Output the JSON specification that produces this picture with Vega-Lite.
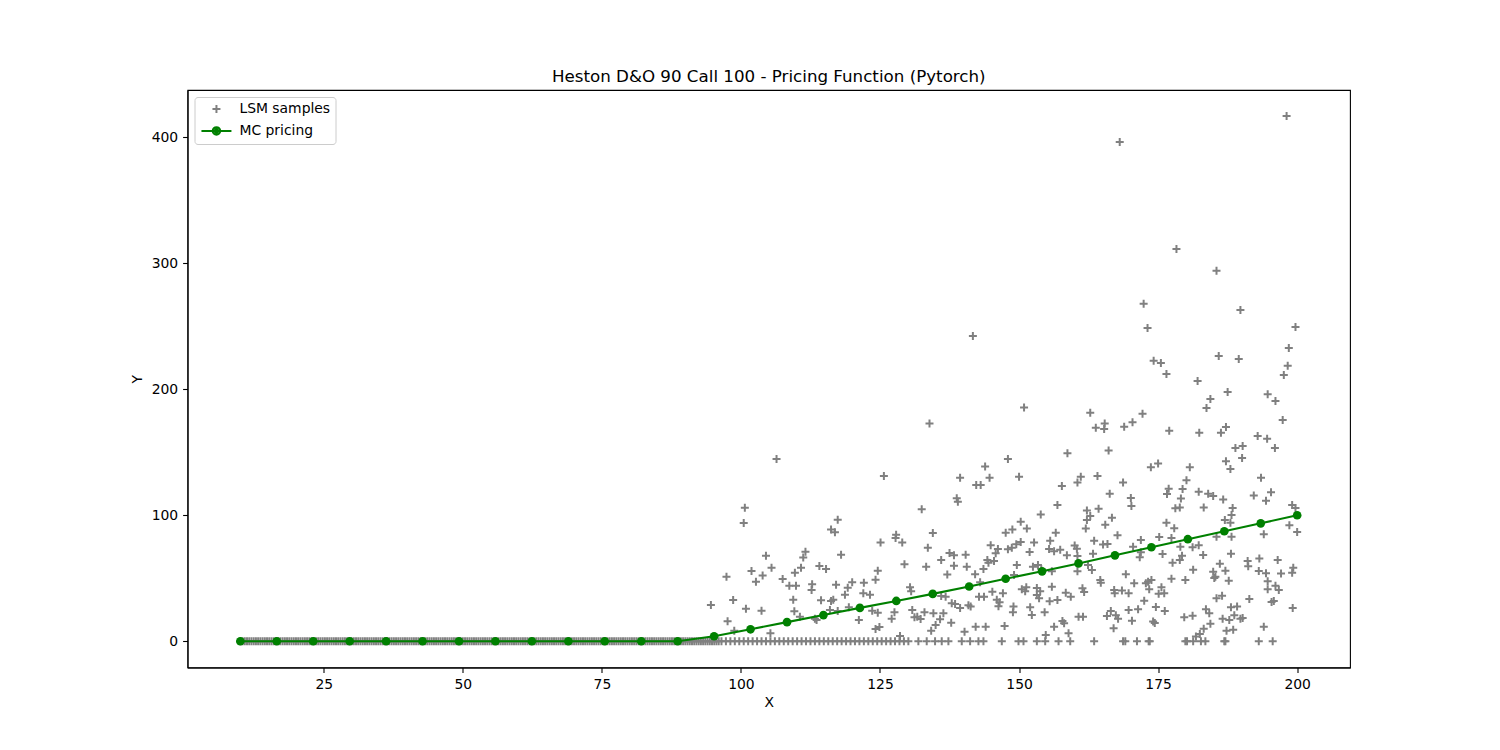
{
  "$schema": "https://vega.github.io/schema/vega-lite/v6.json",
  "width": 1162.5,
  "height": 577.5,
  "autosize": "none",
  "padding": {"left": 187.5, "top": 90, "right": 150, "bottom": 82.5},
  "background": "white",
  "title": {
    "text": "Heston D&O 90 Call 100 - Pricing Function (Pytorch)",
    "font": "DejaVu Sans",
    "fontSize": 16.7,
    "fontWeight": "normal",
    "color": "black",
    "baseline": "bottom",
    "offset": -13
  },
  "datasets": {
    "samples": [
      {"x":10,"y":0},{"x":10.4,"y":0},{"x":10.8,"y":0},{"x":11.2,"y":0},{"x":11.6,"y":0},
      {"x":12,"y":0},{"x":12.4,"y":0},{"x":12.8,"y":0},{"x":13.2,"y":0},{"x":13.6,"y":0},
      {"x":14,"y":0},{"x":14.4,"y":0},{"x":14.8,"y":0},{"x":15.2,"y":0},{"x":15.6,"y":0},
      {"x":16,"y":0},{"x":16.4,"y":0},{"x":16.8,"y":0},{"x":17.2,"y":0},{"x":17.6,"y":0},
      {"x":18,"y":0},{"x":18.4,"y":0},{"x":18.8,"y":0},{"x":19.2,"y":0},{"x":19.6,"y":0},
      {"x":20,"y":0},{"x":20.4,"y":0},{"x":20.8,"y":0},{"x":21.2,"y":0},{"x":21.6,"y":0},
      {"x":22,"y":0},{"x":22.4,"y":0},{"x":22.8,"y":0},{"x":23.2,"y":0},{"x":23.6,"y":0},
      {"x":24,"y":0},{"x":24.4,"y":0},{"x":24.8,"y":0},{"x":25.2,"y":0},{"x":25.6,"y":0},
      {"x":26,"y":0},{"x":26.4,"y":0},{"x":26.8,"y":0},{"x":27.2,"y":0},{"x":27.6,"y":0},
      {"x":28,"y":0},{"x":28.4,"y":0},{"x":28.8,"y":0},{"x":29.2,"y":0},{"x":29.6,"y":0},
      {"x":30,"y":0},{"x":30.4,"y":0},{"x":30.8,"y":0},{"x":31.2,"y":0},{"x":31.6,"y":0},
      {"x":32,"y":0},{"x":32.4,"y":0},{"x":32.8,"y":0},{"x":33.2,"y":0},{"x":33.6,"y":0},
      {"x":34,"y":0},{"x":34.4,"y":0},{"x":34.8,"y":0},{"x":35.2,"y":0},{"x":35.6,"y":0},
      {"x":36,"y":0},{"x":36.4,"y":0},{"x":36.8,"y":0},{"x":37.2,"y":0},{"x":37.6,"y":0},
      {"x":38,"y":0},{"x":38.4,"y":0},{"x":38.8,"y":0},{"x":39.2,"y":0},{"x":39.6,"y":0},
      {"x":40,"y":0},{"x":40.4,"y":0},{"x":40.8,"y":0},{"x":41.2,"y":0},{"x":41.6,"y":0},
      {"x":42,"y":0},{"x":42.4,"y":0},{"x":42.8,"y":0},{"x":43.2,"y":0},{"x":43.6,"y":0},
      {"x":44,"y":0},{"x":44.4,"y":0},{"x":44.8,"y":0},{"x":45.2,"y":0},{"x":45.6,"y":0},
      {"x":46,"y":0},{"x":46.4,"y":0},{"x":46.8,"y":0},{"x":47.2,"y":0},{"x":47.6,"y":0},
      {"x":48,"y":0},{"x":48.4,"y":0},{"x":48.8,"y":0},{"x":49.2,"y":0},{"x":49.6,"y":0},
      {"x":50,"y":0},{"x":50.4,"y":0},{"x":50.8,"y":0},{"x":51.2,"y":0},{"x":51.6,"y":0},
      {"x":52,"y":0},{"x":52.4,"y":0},{"x":52.8,"y":0},{"x":53.2,"y":0},{"x":53.6,"y":0},
      {"x":54,"y":0},{"x":54.4,"y":0},{"x":54.8,"y":0},{"x":55.2,"y":0},{"x":55.6,"y":0},
      {"x":56,"y":0},{"x":56.4,"y":0},{"x":56.8,"y":0},{"x":57.2,"y":0},{"x":57.6,"y":0},
      {"x":58,"y":0},{"x":58.4,"y":0},{"x":58.8,"y":0},{"x":59.2,"y":0},{"x":59.6,"y":0},
      {"x":60,"y":0},{"x":60.4,"y":0},{"x":60.8,"y":0},{"x":61.2,"y":0},{"x":61.6,"y":0},
      {"x":62,"y":0},{"x":62.4,"y":0},{"x":62.8,"y":0},{"x":63.2,"y":0},{"x":63.6,"y":0},
      {"x":64,"y":0},{"x":64.4,"y":0},{"x":64.8,"y":0},{"x":65.2,"y":0},{"x":65.6,"y":0},
      {"x":66,"y":0},{"x":66.4,"y":0},{"x":66.8,"y":0},{"x":67.2,"y":0},{"x":67.6,"y":0},
      {"x":68,"y":0},{"x":68.4,"y":0},{"x":68.8,"y":0},{"x":69.2,"y":0},{"x":69.6,"y":0},
      {"x":70,"y":0},{"x":70.4,"y":0},{"x":70.8,"y":0},{"x":71.2,"y":0},{"x":71.6,"y":0},
      {"x":72,"y":0},{"x":72.4,"y":0},{"x":72.8,"y":0},{"x":73.2,"y":0},{"x":73.6,"y":0},
      {"x":74,"y":0},{"x":74.4,"y":0},{"x":74.8,"y":0},{"x":75.2,"y":0},{"x":75.6,"y":0},
      {"x":76,"y":0},{"x":76.4,"y":0},{"x":76.8,"y":0},{"x":77.2,"y":0},{"x":77.6,"y":0},
      {"x":78,"y":0},{"x":78.4,"y":0},{"x":78.8,"y":0},{"x":79.2,"y":0},{"x":79.6,"y":0},
      {"x":80,"y":0},{"x":80.4,"y":0},{"x":80.8,"y":0},{"x":81.2,"y":0},{"x":81.6,"y":0},
      {"x":82,"y":0},{"x":82.4,"y":0},{"x":82.8,"y":0},{"x":83.2,"y":0},{"x":83.6,"y":0},
      {"x":84,"y":0},{"x":84.4,"y":0},{"x":84.8,"y":0},{"x":85.2,"y":0},{"x":85.6,"y":0},
      {"x":86,"y":0},{"x":86.4,"y":0},{"x":86.8,"y":0},{"x":87.2,"y":0},{"x":87.6,"y":0},
      {"x":88,"y":0},{"x":88.4,"y":0},{"x":88.8,"y":0},{"x":89.2,"y":0},{"x":89.6,"y":0},
      {"x":90,"y":0},{"x":90.4,"y":0},{"x":90.8,"y":0},{"x":91.2,"y":0},{"x":91.6,"y":0},
      {"x":92,"y":0},{"x":92.4,"y":0},{"x":92.8,"y":0},{"x":93.2,"y":0},{"x":93.6,"y":0},
      {"x":94,"y":0},{"x":94.4,"y":0},{"x":94.8,"y":0},{"x":95.2,"y":0},{"x":95.6,"y":0},
      {"x":96,"y":0},
      {"x":96.5,"y":0},{"x":97.3,"y":0},{"x":98.1,"y":0},{"x":98.9,"y":0},{"x":99.7,"y":0},
      {"x":100.5,"y":0},{"x":101.3,"y":0},{"x":102.1,"y":0},{"x":102.9,"y":0},{"x":103.7,"y":0},
      {"x":104.5,"y":0},{"x":105.3,"y":0},{"x":106.1,"y":0},{"x":106.9,"y":0},{"x":107.7,"y":0},
      {"x":108.5,"y":0},{"x":109.3,"y":0},{"x":110.1,"y":0},{"x":110.9,"y":0},{"x":111.7,"y":0},
      {"x":112.5,"y":0},{"x":113.3,"y":0},{"x":114.1,"y":0},{"x":114.9,"y":0},{"x":115.7,"y":0},
      {"x":116.5,"y":0},{"x":117.3,"y":0},{"x":118.1,"y":0},{"x":118.9,"y":0},{"x":119.7,"y":0},
      {"x":120.5,"y":0},{"x":121.3,"y":0},{"x":122.1,"y":0},{"x":122.9,"y":0},{"x":123.7,"y":0},
      {"x":124.5,"y":0},{"x":125.3,"y":0},{"x":126.1,"y":0},{"x":126.9,"y":0},{"x":127.7,"y":0},
      {"x":128.5,"y":0},{"x":129.3,"y":0},{"x":130.1,"y":0},{"x":131.9,"y":0},{"x":133.4,"y":0},
      {"x":134.9,"y":0},{"x":136.1,"y":0},{"x":137.3,"y":0},{"x":139.7,"y":0},{"x":141.2,"y":0},
      {"x":142.7,"y":0},{"x":143.6,"y":0},{"x":146.9,"y":0},{"x":149.9,"y":0},{"x":150.8,"y":0},
      {"x":153.2,"y":0},{"x":154.7,"y":0},{"x":157.1,"y":0},{"x":159.2,"y":0},{"x":163.5,"y":0},
      {"x":168.7,"y":0},{"x":169.1,"y":0},{"x":171.2,"y":0},{"x":173.3,"y":0},{"x":173.5,"y":0},
      {"x":179.9,"y":0},{"x":180.2,"y":0},{"x":181.3,"y":0},{"x":182.7,"y":0},{"x":183.5,"y":0},
      {"x":186.9,"y":0},{"x":187.1,"y":0},{"x":193.1,"y":0},{"x":195.6,"y":0},
      {"x":198.1,"y":416.8},{"x":168.1,"y":396.2},{"x":178.3,"y":311.3},{"x":185.5,"y":293.9},
      {"x":172.4,"y":267.9},{"x":189.8,"y":262.9},{"x":173.1,"y":248.6},{"x":199.7,"y":249.4},
      {"x":141.7,"y":242.2},{"x":198.5,"y":232.7},{"x":185.9,"y":226.4},{"x":189.5,"y":224.0},
      {"x":174.2,"y":222.6},{"x":175.5,"y":220.8},{"x":176.5,"y":212.1},{"x":182.1,"y":206.5},
      {"x":198.3,"y":218.7},{"x":197.6,"y":211.3},
      {"x":106.4,"y":144.7},{"x":125.7,"y":131.2},{"x":100.7,"y":106.0},{"x":100.5,"y":93.9},
      {"x":117.4,"y":96.5},{"x":116.2,"y":88.6},{"x":116.9,"y":86.5},{"x":125.1,"y":78.3},
      {"x":127.9,"y":84.6},{"x":127.8,"y":82.0},{"x":129.0,"y":78.3},{"x":129.4,"y":61.1},
      {"x":111.6,"y":71.1},{"x":111.2,"y":66.4},{"x":104.5,"y":67.9},{"x":118.0,"y":68.7},
      {"x":105.5,"y":58.4},{"x":101.9,"y":55.8},{"x":110.8,"y":58.4},{"x":114.1,"y":59.8},
      {"x":115.3,"y":57.4},{"x":124.6,"y":56.0},{"x":97.4,"y":51.3},{"x":103.9,"y":52.1},
      {"x":102.7,"y":47.3},{"x":107.5,"y":49.4},{"x":109.7,"y":54.4},{"x":108.7,"y":44.1},
      {"x":109.9,"y":44.1},{"x":112.8,"y":45.2},{"x":112.7,"y":40.7},{"x":117.1,"y":44.9},
      {"x":120.0,"y":46.8},{"x":119.2,"y":42.5},{"x":122.1,"y":46.5},{"x":124.2,"y":48.9},
      {"x":118.7,"y":37.0},{"x":122.0,"y":38.1},{"x":123.2,"y":37.0},{"x":94.6,"y":28.8},
      {"x":98.6,"y":32.8},{"x":100.9,"y":25.9},{"x":103.7,"y":24.3},{"x":109.4,"y":33.0},
      {"x":109.6,"y":23.8},{"x":110.6,"y":19.5},{"x":114.4,"y":32.5},{"x":116.2,"y":32.0},
      {"x":116.6,"y":33.0},{"x":116.0,"y":24.8},{"x":117.4,"y":24.0},{"x":119.4,"y":27.0},
      {"x":123.6,"y":24.3},{"x":124.6,"y":22.7},{"x":113.3,"y":17.9},{"x":113.6,"y":16.9},
      {"x":97.6,"y":15.9},{"x":98.8,"y":8.4},{"x":105.3,"y":6.3},{"x":121.2,"y":16.9},
      {"x":127.6,"y":23.0},{"x":127.1,"y":17.9},{"x":124.2,"y":9.8},{"x":124.9,"y":11.3},
      {"x":128.6,"y":4.2},
      {"x":150.9,"y":185.4},{"x":133.9,"y":172.7},{"x":162.8,"y":181.4},{"x":163.8,"y":169.5},
      {"x":165.4,"y":172.7},{"x":165.3,"y":168.5},{"x":166.1,"y":151.3},{"x":158.7,"y":149.2},
      {"x":148.0,"y":144.7},{"x":143.9,"y":138.6},{"x":139.4,"y":129.8},{"x":144.7,"y":129.8},
      {"x":150.0,"y":130.6},{"x":142.3,"y":124.0},{"x":143.1,"y":124.0},{"x":157.7,"y":123.3},
      {"x":160.5,"y":125.9},{"x":161.1,"y":130.6},{"x":164.1,"y":131.2},{"x":166.3,"y":117.1},
      {"x":138.8,"y":113.5},{"x":139.0,"y":110.8},{"x":132.5,"y":104.8},{"x":156.9,"y":108.2},
      {"x":153.9,"y":100.5},{"x":162.2,"y":103.7},{"x":162.8,"y":99.4},{"x":162.2,"y":96.3},
      {"x":164.3,"y":105.2},{"x":166.7,"y":98.1},{"x":165.5,"y":92.5},{"x":162.0,"y":89.4},
      {"x":150.3,"y":94.9},{"x":151.4,"y":89.4},{"x":147.6,"y":86.2},{"x":148.8,"y":88.6},
      {"x":134.5,"y":85.9},{"x":156.6,"y":86.2},{"x":167.7,"y":84.1},{"x":163.5,"y":79.8},
      {"x":165.1,"y":76.7},{"x":165.9,"y":77.2},{"x":133.6,"y":74.3},{"x":144.9,"y":76.2},
      {"x":146.2,"y":73.3},{"x":145.8,"y":69.8},{"x":148.0,"y":73.0},{"x":148.7,"y":74.3},
      {"x":149.5,"y":77.0},{"x":150.3,"y":78.8},{"x":152.7,"y":78.3},{"x":151.9,"y":70.9},
      {"x":155.6,"y":79.8},{"x":155.4,"y":73.3},{"x":156.3,"y":71.4},{"x":157.4,"y":72.7},
      {"x":158.6,"y":68.3},{"x":160.0,"y":75.9},{"x":160.4,"y":73.5},{"x":160.5,"y":67.7},
      {"x":163.3,"y":69.5},{"x":137.5,"y":70.1},{"x":138.3,"y":68.3},{"x":140.4,"y":68.7},
      {"x":136.0,"y":64.5},{"x":144.3,"y":64.5},{"x":145.5,"y":63.7},{"x":144.5,"y":62.4},
      {"x":133.3,"y":59.2},{"x":138.3,"y":60.0},{"x":140.6,"y":59.2},{"x":143.6,"y":57.4},
      {"x":149.6,"y":60.6},{"x":152.5,"y":59.2},{"x":153.4,"y":60.6},{"x":154.0,"y":57.1},
      {"x":155.9,"y":55.6},{"x":160.5,"y":55.6},{"x":162.4,"y":60.6},{"x":163.1,"y":56.6},
      {"x":137.1,"y":52.9},{"x":142.1,"y":53.2},{"x":149.1,"y":52.6},{"x":143.0,"y":46.8},
      {"x":164.6,"y":48.7},{"x":164.7,"y":46.5},{"x":130.4,"y":42.9},{"x":130.6,"y":39.7},
      {"x":136.0,"y":35.9},{"x":136.8,"y":35.4},{"x":143.7,"y":35.4},{"x":145.2,"y":39.4},
      {"x":146.0,"y":33.0},{"x":146.5,"y":30.9},{"x":146.3,"y":27.8},{"x":147.1,"y":38.1},
      {"x":150.5,"y":41.3},{"x":151.3,"y":42.9},{"x":151.1,"y":39.7},{"x":153.2,"y":42.3},
      {"x":153.2,"y":36.7},{"x":153.8,"y":39.7},{"x":153.6,"y":34.1},{"x":155.9,"y":43.3},
      {"x":155.5,"y":31.7},{"x":156.9,"y":32.8},{"x":158.4,"y":38.6},{"x":159.3,"y":35.4},
      {"x":161.4,"y":42.1},{"x":161.7,"y":39.1},{"x":167.1,"y":40.7},{"x":167.2,"y":38.1},
      {"x":137.9,"y":30.2},{"x":138.5,"y":29.6},{"x":139.4,"y":26.4},{"x":140.9,"y":28.6},
      {"x":141.3,"y":27.5},{"x":142.8,"y":35.4},{"x":149.0,"y":27.5},{"x":148.9,"y":23.0},
      {"x":152.0,"y":27.0},{"x":152.3,"y":20.9},{"x":154.6,"y":23.0},{"x":166.5,"y":24.0},
      {"x":165.8,"y":20.1},{"x":167.4,"y":20.6},{"x":167.8,"y":17.9},{"x":130.8,"y":24.8},
      {"x":131.2,"y":19.0},{"x":132.3,"y":17.7},{"x":131.7,"y":19.5},{"x":133.0,"y":23.0},
      {"x":134.6,"y":22.2},{"x":136.4,"y":22.2},{"x":135.8,"y":17.5},{"x":135.0,"y":12.9},
      {"x":134.2,"y":8.4},{"x":137.8,"y":14.8},{"x":140.2,"y":7.6},{"x":142.2,"y":11.6},
      {"x":144.0,"y":11.6},{"x":147.4,"y":12.1},{"x":157.8,"y":16.1},{"x":158.1,"y":14.3},
      {"x":156.3,"y":11.6},{"x":158.9,"y":6.3},{"x":160.7,"y":19.5},{"x":161.5,"y":19.5},
      {"x":167.0,"y":10.3},{"x":154.8,"y":5.0},
      {"x":187.5,"y":197.8},{"x":184.4,"y":192.3},{"x":183.7,"y":185.1},{"x":194.7,"y":196.0},
      {"x":196.1,"y":190.7},{"x":172.2,"y":180.6},{"x":170.4,"y":173.8},{"x":168.9,"y":170.3},
      {"x":197.4,"y":175.6},{"x":177.0,"y":167.1},{"x":182.4,"y":165.5},{"x":186.3,"y":165.5},
      {"x":187.2,"y":170.1},{"x":192.9,"y":162.9},{"x":194.6,"y":160.6},{"x":196.0,"y":153.4},
      {"x":188.9,"y":153.4},{"x":190.2,"y":155.0},{"x":190.1,"y":145.5},{"x":187.2,"y":142.8},
      {"x":188.0,"y":136.7},{"x":173.7,"y":138.1},{"x":175.0,"y":141.0},{"x":180.7,"y":138.1},
      {"x":193.5,"y":129.8},{"x":180.1,"y":127.8},{"x":168.7,"y":125.9},{"x":176.9,"y":121.1},
      {"x":176.6,"y":116.9},{"x":179.4,"y":120.9},{"x":179.1,"y":113.2},{"x":182.3,"y":118.7},
      {"x":184.0,"y":117.1},{"x":184.9,"y":115.3},{"x":192.2,"y":115.6},{"x":195.3,"y":118.3},
      {"x":194.4,"y":111.6},{"x":186.7,"y":112.4},{"x":170.1,"y":113.7},{"x":170.2,"y":107.4},
      {"x":178.1,"y":105.6},{"x":178.9,"y":106.1},{"x":183.2,"y":106.1},{"x":188.4,"y":105.8},
      {"x":188.2,"y":100.2},{"x":187.0,"y":96.3},{"x":188.0,"y":94.1},{"x":199.1,"y":108.2},
      {"x":199.7,"y":105.8},{"x":198.6,"y":92.0},{"x":200.0,"y":86.7},{"x":194.0,"y":84.9},
      {"x":176.5,"y":94.1},{"x":177.9,"y":89.7},{"x":175.2,"y":82.8},{"x":177.4,"y":82.0},
      {"x":171.9,"y":80.4},{"x":170.5,"y":75.1},{"x":179.0,"y":75.1},{"x":181.2,"y":74.6},
      {"x":182.3,"y":76.2},{"x":185.5,"y":83.0},{"x":188.2,"y":83.0},{"x":171.9,"y":70.6},
      {"x":171.7,"y":66.7},{"x":175.8,"y":69.3},{"x":179.3,"y":67.9},{"x":178.9,"y":64.5},
      {"x":183.1,"y":68.5},{"x":177.6,"y":62.4},{"x":188.1,"y":69.5},{"x":186.1,"y":61.6},
      {"x":191.1,"y":63.7},{"x":191.2,"y":59.5},{"x":193.2,"y":65.6},{"x":196.5,"y":64.5},
      {"x":199.3,"y":58.4},{"x":199.1,"y":54.4},{"x":169.2,"y":53.2},{"x":181.3,"y":56.8},
      {"x":184.9,"y":55.2},{"x":185.3,"y":51.3},{"x":187.1,"y":56.0},{"x":185.1,"y":50.2},
      {"x":187.7,"y":48.1},{"x":193.1,"y":55.8},{"x":194.4,"y":54.0},{"x":197.1,"y":53.7},
      {"x":177.4,"y":49.7},{"x":179.9,"y":48.7},{"x":170.7,"y":46.0},{"x":173.2,"y":47.3},
      {"x":173.8,"y":48.7},{"x":172.8,"y":46.0},{"x":175.6,"y":42.9},{"x":176.1,"y":38.1},
      {"x":175.1,"y":37.8},{"x":173.4,"y":41.3},{"x":194.7,"y":47.6},{"x":196.1,"y":44.1},
      {"x":194.7,"y":41.3},{"x":196.7,"y":40.7},{"x":168.5,"y":40.2},{"x":169.7,"y":38.1},
      {"x":172.5,"y":32.2},{"x":185.5,"y":34.1},{"x":186.5,"y":36.2},{"x":191.4,"y":33.6},
      {"x":195.4,"y":31.2},{"x":195.8,"y":32.0},{"x":174.6,"y":27.2},{"x":176.2,"y":24.0},
      {"x":169.7,"y":24.8},{"x":171.4,"y":25.4},{"x":183.6,"y":25.4},{"x":184.2,"y":22.2},
      {"x":188.1,"y":27.0},{"x":189.2,"y":27.5},{"x":199.2,"y":26.4},{"x":170.3,"y":16.3},
      {"x":174.1,"y":15.6},{"x":174.4,"y":14.5},{"x":179.7,"y":19.0},{"x":181.2,"y":20.3},
      {"x":184.4,"y":14.0},{"x":183.2,"y":10.0},{"x":182.5,"y":5.8},{"x":181.8,"y":3.7},
      {"x":186.6,"y":17.9},{"x":187.8,"y":16.9},{"x":188.7,"y":20.6},{"x":189.8,"y":17.9},
      {"x":190.2,"y":18.5},{"x":194.0,"y":11.6},{"x":188.5,"y":9.2},{"x":187.3,"y":8.4}
    ],
    "pricing": [
      {"x":10,"y":0},{"x":16.55,"y":0},{"x":23.1,"y":0},{"x":29.66,"y":0},{"x":36.21,"y":0},
      {"x":42.76,"y":0},{"x":49.31,"y":0},{"x":55.86,"y":0},{"x":62.41,"y":0},{"x":68.97,"y":0},
      {"x":75.52,"y":0},{"x":82.07,"y":0},{"x":88.62,"y":0},{"x":95.17,"y":4.0},{"x":101.72,"y":9.5},
      {"x":108.28,"y":15.2},{"x":114.83,"y":20.8},{"x":121.38,"y":26.5},{"x":127.93,"y":32.0},
      {"x":134.48,"y":37.6},{"x":141.03,"y":43.5},{"x":147.59,"y":49.6},{"x":154.14,"y":55.5},
      {"x":160.69,"y":61.8},{"x":167.24,"y":68.2},{"x":173.79,"y":74.6},{"x":180.34,"y":81.0},
      {"x":186.9,"y":87.3},{"x":193.45,"y":93.6},{"x":200,"y":100}
    ]
  },
  "encoding": {
    "x": {
      "field": "x",
      "type": "quantitative",
      "title": "X",
      "scale": {"domain": [0.5, 209.5], "nice": false, "zero": false},
      "axis": {"values": [25, 50, 75, 100, 125, 150, 175, 200], "titlePadding": 4}
    },
    "y": {
      "field": "y",
      "type": "quantitative",
      "title": "Y",
      "scale": {"domain": [-20.8, 437.4], "nice": false, "zero": false},
      "axis": {"values": [0, 100, 200, 300, 400], "titlePadding": 7}
    }
  },
  "layer": [
    {
      "data": {"name": "samples"},
      "mark": {"type": "point", "filled": false, "size": 100, "strokeWidth": 2, "opacity": 1},
      "encoding": {
        "shape": {
          "datum": "LSM samples",
          "scale": {"domain": ["LSM samples", "MC pricing"], "range": ["M-0.8,0L0.8,0M0,-0.8L0,0.8", "M-3,0L3,0M0.75,0A0.75,0.75,0,1,1,-0.75,0A0.75,0.75,0,1,1,0.75,0M0.35,0A0.35,0.35,0,1,1,-0.35,0A0.35,0.35,0,1,1,0.35,0M0.1,0A0.1,0.1,0,1,1,-0.1,0A0.1,0.1,0,1,1,0.1,0"]},
          "legend": {
            "title": null,
            "orient": "top-left",
            "offset": 7,
            "padding": 5,
            "symbolSize": 100,
            "symbolOffset": 10,
            "symbolStrokeWidth": 2,
            "labelOffset": 16,
            "rowPadding": 6
          }
        },
        "color": {
          "datum": "LSM samples",
          "scale": {"domain": ["LSM samples", "MC pricing"], "range": ["#808080", "#008000"]},
          "legend": {
            "title": null,
            "orient": "top-left",
            "offset": 7,
            "padding": 5,
            "symbolSize": 100,
            "symbolOffset": 10,
            "symbolStrokeWidth": 2,
            "labelOffset": 16,
            "rowPadding": 6
          }
        }
      }
    },
    {
      "data": {"name": "pricing"},
      "mark": {"type": "line", "strokeWidth": 2.08, "color": "#008000"}
    },
    {
      "data": {"name": "pricing"},
      "mark": {"type": "circle", "size": 75, "opacity": 1, "color": "#008000"}
    }
  ],
  "config": {
    "font": "DejaVu Sans",
    "view": {"stroke": "black", "strokeWidth": 1.1},
    "axis": {
      "grid": false,
      "domainColor": "black",
      "domainWidth": 1.1,
      "tickColor": "black",
      "tickWidth": 1.1,
      "tickSize": 4.9,
      "labelFont": "DejaVu Sans",
      "labelFontSize": 13.9,
      "labelColor": "black",
      "labelPadding": 4.9,
      "labelFlush": false,
      "titleFont": "DejaVu Sans",
      "titleFontSize": 13.9,
      "titleFontWeight": "normal",
      "titleColor": "black"
    },
    "legend": {
      "labelFont": "DejaVu Sans",
      "labelFontSize": 13.9,
      "labelColor": "black",
      "strokeColor": "#cccccc",
      "fillColor": "rgba(255,255,255,0.8)",
      "cornerRadius": 3
    }
  }
}
